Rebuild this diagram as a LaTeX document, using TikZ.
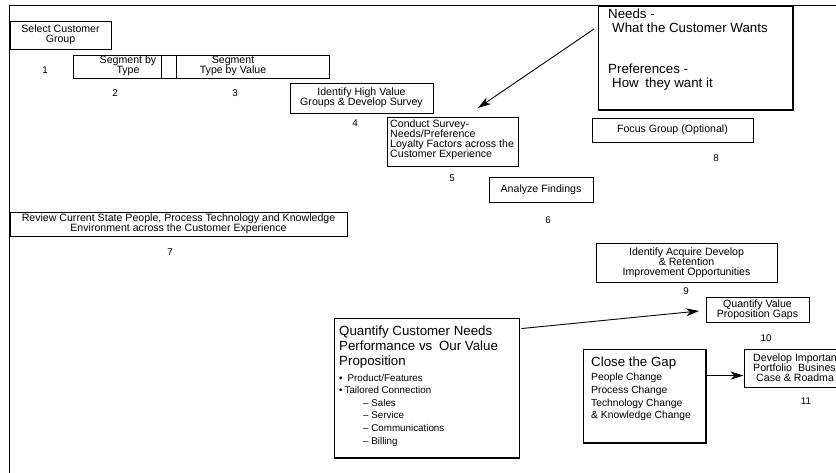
\documentclass[tikz,border=0pt]{standalone}
\usepackage{fontspec}
\setmainfont{Liberation Sans}
\usetikzlibrary{arrows.meta,fit,calc}
\begin{document}
\begin{tikzpicture}[x=1pt,y=-1pt,
  box/.style={draw, line width=0.9pt, inner sep=0pt},
  sm/.style={font=\fontsize{10.6}{10}\selectfont, inner sep=0pt, align=center},
  md/.style={font=\fontsize{10.3}{12.7}\selectfont, inner sep=0pt, align=left},
  lg/.style={font=\fontsize{13.3}{14}\selectfont, inner sep=0pt, align=left},
  num/.style={font=\fontsize{9.8}{10}\selectfont, inner sep=0pt},
  arr/.style={line width=0.9pt, -{Stealth[length=13pt,width=8pt,inset=4pt]}},
  thick edge/.style={line width=2pt}]
\useasboundingbox (0,0) rectangle (836,473);
\clip (0,0) rectangle (836,473);
% frame
\coordinate (f1) at (9,473);
\coordinate (f2) at (9,5);
\coordinate (f3) at (836,5);
\draw[line width=0.9pt] (f1) -- (f2) -- (f3);

% 1
\node[box, fit={(10,21) (111,49)}] (b1) {};
\node[sm] (t1) at (b1.center) {Select Customer\\Group};
\node[num] (n1) at (45,70) {1};
% 2, 3
\node[box, fit={(73,55) (161,78)}] (b2) {};
\node[box, fit={(161,55) (176,78)}] (b2a) {};
\node[box, fit={(176,55) (329,78)}] (b3) {};
\node[sm] (t2) at (128,66) {Segment by\\Type};
\node[sm] (t3) at (233,66) {Segment\\Type by Value};
\node[num] (n2) at (115,93) {2};
\node[num] (n3) at (235,93) {3};
% 4
\node[box, fit={(290,83) (433,113)}] (b4) {};
\node[sm] (t4) at (b4.center) {Identify High Value\\Groups \& Develop Survey};
\node[num] (n4) at (355,123) {4};
% 5
\node[box, fit={(387,117) (518,166)}] (b5) {};
\node[sm, align=left, anchor=west] (t5) at (390,140) {Conduct Survey-\\Needs/Preference\\Loyalty Factors across the\\Customer Experience};
\node[num] (n5) at (452,178) {5};
% 6
\node[box, fit={(489,177) (593,202)}] (b6) {};
\node[sm] (t6) at (b6.center) {Analyze Findings};
\node[num] (n6) at (548,220) {6};
% 7
\node[box, fit={(10,212) (347,236)}] (b7) {};
\node[sm] (t7) at (b7.center) {Review Current State People, Process Technology and Knowledge\\Environment across the Customer Experience};
\node[num] (n7) at (170,252) {7};
% 8
\node[box, fit={(592,118) (753,142)}] (b8) {};
\node[sm] (t8) at (b8.center) {Focus Group (Optional)};
\node[num] (n8) at (716,158) {8};
% Needs box
\node[box, fit={(598,6) (793,110)}] (bN) {};
\draw[thick edge] (bN.south west) -- (bN.south east) -- (bN.north east);
\node[lg, anchor=west] (tN) at (608,50) {Needs -\\\hspace{4pt}What the Customer Wants\\[27pt]Preferences -\\\hspace{4pt}How\hspace{3pt} they want it};
% 9
\node[box, fit={(596,243) (777,282)}] (b9) {};
\node[sm] (t9) at (b9.center) {Identify Acquire Develop\\\& Retention\\Improvement Opportunities};
\node[num] (n9) at (686,291) {9};
% 10
\node[box, fit={(706,297) (809,322)}] (b10) {};
\node[sm] (t10) at (b10.center) {Quantify Value\\Proposition Gaps};
\node[num] (n10) at (766,338) {10};
% Quantify customer needs
\node[box, fit={(334,318) (519,458)}] (bQ) {};
\draw[thick edge] (bQ.south west) -- (bQ.south east);
\node[lg, font=\fontsize{13.3}{15}\selectfont, anchor=west] (tQ) at (339,347) {Quantify Customer Needs\\Performance vs\hspace{3pt} Our Value\\Proposition};
\node[md, font=\fontsize{9.8}{12.6}\selectfont, anchor=west] (lQ) at (339,410) {•\hspace{5pt}Product/Features\\•\hspace{2pt}Tailored Connection\\\hspace{24pt}– Sales\\\hspace{24pt}– Service\\\hspace{24pt}– Communications\\\hspace{24pt}– Billing};
% Close the gap
\node[box, fit={(583,349) (706,443)}] (bC) {};
\draw[thick edge] (bC.south west) -- (bC.south east) -- (bC.north east);
\node[lg, anchor=west] (tC) at (591,363) {Close the Gap};
\node[md, anchor=west] (lC) at (591,397) {People Change\\Process Change\\Technology Change\\\& Knowledge Change};
% 11 (cut off at the right edge, as in the reference)
\node[box, fit={(744,349) (872,387)}] (b11) {};
\node[sm, align=left, anchor=west] (t11) at (753,368) {Develop Importan\\Portfolio\hspace{3pt} Busines\\\hspace{3pt}Case \& Roadma};
\node[num] (n11) at (806,401) {11};

% arrows
\coordinate (aN1) at (594,29);
\coordinate (aN2) at (478,108);
\draw[arr] (aN1) -- (aN2);
\coordinate (aQ2) at (699,311);
\draw[arr] ($(bQ.north east)+(2,11)$) -- (aQ2);
\draw[arr] ($(bC.north east)+(0,27)$) -- ($(b11.north west)+(0,27)$);
\end{tikzpicture}
\end{document}
